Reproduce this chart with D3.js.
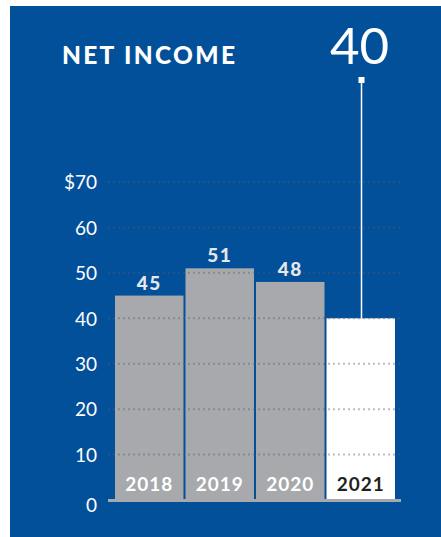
<!DOCTYPE html>
<html lang="en">
<head>
<meta charset="UTF-8">
<title>Net Income</title>
<script src="https://d3js.org/d3.v7.min.js"></script>
<style>
  body { margin: 0; background: #fff; }
  svg { display: block; font-family: Lato, "Open Sans", sans-serif; }
</style>
</head>
<body>
<div id="chart"></div>
<script>
// chart data
const years = ["2018", "2019", "2020", "2021"];
const netIncome = [45, 51, 48, 40];
const yTicks = [0, 10, 20, 30, 40, 50, 60, 70];
const highlightYear = "2021";

const W = 441, H = 537;

const svg = d3.select("#chart").append("svg")
    .attr("width", W)
    .attr("height", H);

// blue panel
svg.append("rect")
    .attr("x", 10).attr("y", 6)
    .attr("width", W - 10).attr("height", H - 6)
    .attr("fill", "#03509a");

const x = d3.scaleBand()
    .domain(years)
    .range([116 - 1, 394 + 1])
    .paddingInner(2 / 70)
    .paddingOuter(0.0);

const y = d3.scaleLinear()
    .domain([0, 70])
    .range([500, 182]);

// title
svg.append("text")
    .attr("x", 62).attr("y", 64)
    .attr("fill", "#fff")
    .style("font-size", "24.5px")
    .style("font-weight", "900")
    .style("letter-spacing", "2.3px")
    .text("NET INCOME");

// bars
const data = years.map((yr, i) => ({year: yr, value: netIncome[i]}));

svg.selectAll(".bar")
    .data(data)
    .enter().append("rect")
    .attr("class", "bar")
    .attr("x", d => x(d.year))
    .attr("y", d => y(d.value))
    .attr("width", x.bandwidth())
    .attr("height", d => y(0) - y(d.value))
    .attr("fill", d => d.year === highlightYear ? "#ffffff" : "#a7a9ac");

// dotted gridlines over everything
svg.selectAll(".grid")
    .data(yTicks.filter(t => t > 0))
    .enter().append("line")
    .attr("x1", 108).attr("x2", 402)
    .attr("y1", d => y(d)).attr("y2", d => y(d))
    .attr("stroke", "rgba(90,90,90,0.4)")
    .attr("stroke-width", 2)
    .attr("stroke-dasharray", "2,3");

// baseline
svg.append("line")
    .attr("x1", 108).attr("x2", 401)
    .attr("y1", y(0) + 0.5).attr("y2", y(0) + 0.5)
    .attr("stroke", "#a7a9ac")
    .attr("stroke-width", 3);

// y axis labels
const yAxis = d3.axisLeft(y).tickValues(yTicks)
    .tickSize(0).tickPadding(0)
    .tickFormat(d => d === 70 ? "$" + d : d);
const gy = svg.append("g")
    .attr("transform", "translate(97,0)")
    .call(yAxis);
gy.select(".domain").remove();
gy.selectAll("text")
    .attr("fill", "#fff")
    .attr("dy", "0.36em")
    .style("font-family", "Lato, sans-serif")
    .style("font-size", "19px");
// zero label sits a little below the baseline
gy.selectAll(".tick").filter(d => d === 0).select("text").attr("dy", "0.6em");

// value labels above the grey bars
svg.selectAll(".val")
    .data(data.filter(d => d.year !== highlightYear))
    .enter().append("text")
    .attr("x", d => x(d.year) + x.bandwidth() / 2)
    .attr("y", d => y(d.value) - 6)
    .attr("text-anchor", "middle")
    .attr("fill", "#e6e7e8")
    .style("font-size", "19px")
    .style("font-weight", "900")
    .style("letter-spacing", "1.5px")
    .text(d => d.value);

// year labels inside bars
svg.selectAll(".yr")
    .data(data)
    .enter().append("text")
    .attr("x", d => x(d.year) + x.bandwidth() / 2)
    .attr("y", 491)
    .attr("text-anchor", "middle")
    .attr("fill", d => d.year === highlightYear ? "#231f20" : "#fff")
    .style("font-size", "19px")
    .style("font-weight", "bold")
    .style("letter-spacing", "1px")
    .text(d => d.year);

// callout for the highlighted year
const hl = data.find(d => d.year === highlightYear);
const cx = Math.round(x(hl.year) + x.bandwidth() / 2) + 0.5;
svg.append("line")
    .attr("x1", cx).attr("x2", cx)
    .attr("y1", 80).attr("y2", y(hl.value))
    .attr("stroke", "#fff")
    .attr("stroke-width", 1.5);
svg.append("rect")
    .attr("x", cx - 3).attr("y", 77)
    .attr("width", 6).attr("height", 6)
    .attr("fill", "#fff");
svg.append("text")
    .attr("x", cx - 2).attr("y", 64)
    .attr("text-anchor", "middle")
    .attr("fill", "#fff")
    .style("font-size", "51px")
    .text(hl.value);
</script>
</body>
</html>
